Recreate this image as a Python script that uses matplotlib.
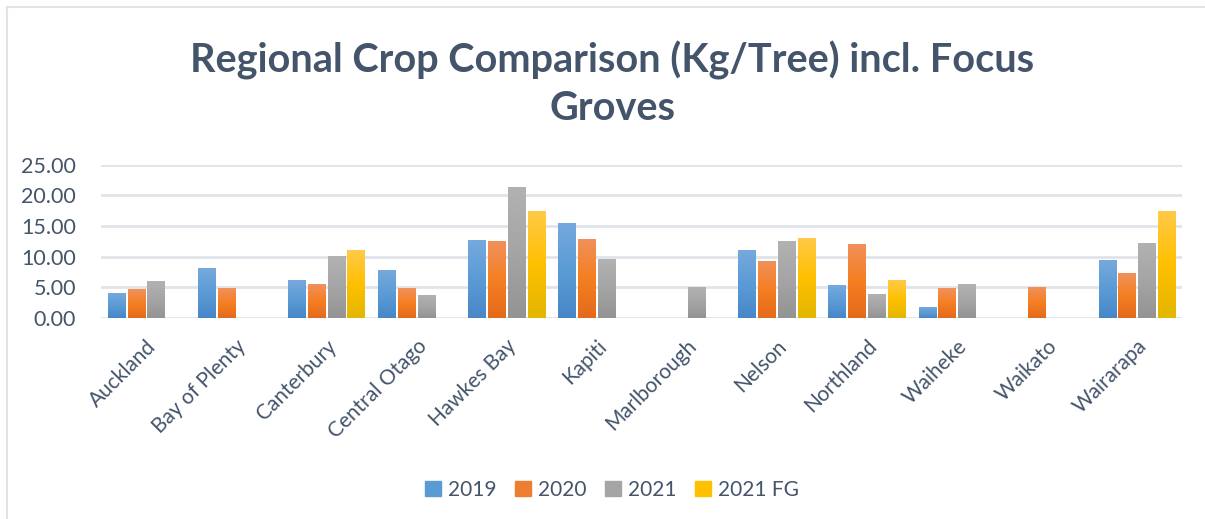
import numpy as np
import matplotlib
matplotlib.use("Agg")
import matplotlib.pyplot as plt
from matplotlib.colors import LinearSegmentedColormap
from matplotlib.lines import Line2D

categories = ["Auckland", "Bay of Plenty", "Canterbury", "Central Otago", "Hawkes Bay",
              "Kapiti", "Marlborough", "Nelson", "Northland", "Waiheke", "Waikato", "Wairarapa"]
series_names = ["2019", "2020", "2021", "2021 FG"]
v2019 = [4.05, 8.09, 6.18, 7.80, 12.70, 15.50, np.nan, 11.08, 5.37, 1.77, np.nan, 9.45]
v2020 = [4.70, 4.87, 5.53, 4.87, 12.55, 12.90, np.nan, 9.30, 12.07, 4.87, 5.04, 7.33]
v2021 = [6.00, np.nan, 10.10, 3.73, 21.40, 9.60, 5.04, 12.55, 3.90, 5.53, np.nan, 12.20]
v2021fg = [np.nan, np.nan, 11.08, np.nan, 17.45, np.nan, np.nan, 13.05, 6.18, np.nan, np.nan, 17.45]
yticks = [0, 5, 10, 15, 20, 25]
title = "Regional Crop Comparison (Kg/Tree) incl. Focus\nGroves"

series = [v2019, v2020, v2021, v2021fg]
base_colors = ["#5B9BD5", "#ED7D31", "#A5A5A5", "#FFC000"]
grads = [
    ["#4787C8", "#5B9BD5", "#76A9DE"],
    ["#E46A1B", "#F57F22", "#F0915C"],
    ["#939393", "#A5A5A5", "#B2B2B2"],
    ["#E3B600", "#FFC000", "#FFCA4A"],
]
text_color = "#44546A"
font = "Lato"

fig = plt.figure(figsize=(12.05, 5.19), dpi=100)
fig.patch.set_facecolor("white")
ax = fig.add_axes([101 / 1205, 201 / 519, 1081 / 1205, 153.3 / 519])

n = len(categories)
x = np.arange(n)
bw = 0.19
step = 0.22
offsets = (np.arange(4) - 1.5) * step

handles = []
for i, (vals, c, g) in enumerate(zip(series, base_colors, grads)):
    vals = np.array(vals, dtype=float)
    bars = ax.bar(x + offsets[i], np.nan_to_num(vals), width=bw, color=c, zorder=2)
    cmap = LinearSegmentedColormap.from_list(f"g{i}", g)
    grad = np.linspace(0, 1, 256).reshape(-1, 1)
    for b, v in zip(bars, vals):
        if np.isnan(v) or v <= 0:
            b.set_visible(False)
            continue
        bx, by = b.get_x(), b.get_y()
        w, h = b.get_width(), b.get_height()
        im = ax.imshow(grad, extent=[bx, bx + w, by, by + h], origin="lower",
                       aspect="auto", cmap=cmap, zorder=3, interpolation="bilinear")
        im.set_clip_path(b)
    handles.append(plt.Rectangle((0, 0), 1, 1, color=c))

ax.set_xlim(-0.5, n - 0.5)
ax.set_ylim(0, 25)
ax.set_yticks(yticks)
ax.set_yticklabels([f"{t:.2f}" for t in yticks], fontsize=15.5, color=text_color, family=font)
ax.set_xticks(x)
ax.set_xticklabels(categories, rotation=45, ha="right", rotation_mode="anchor",
                   fontsize=15, color=text_color, family=font)
ax.tick_params(axis="x", length=0, pad=13)
ax.tick_params(axis="y", length=0, pad=18)
for s in ax.spines.values():
    s.set_visible(False)
ax.grid(axis="y", color="#E0E3E8", linewidth=2, zorder=0)
ax.set_axisbelow(True)

fig.text(0.508, 1 - 84 / 519, title, ha="center", va="center", fontsize=28.5,
         fontweight="bold", color=text_color, family=font, linespacing=1.32)

fig.legend(handles, series_names, loc="center", bbox_to_anchor=(0.508, 1 - 490 / 519),
           ncol=4, frameon=False, handlelength=0.75, handleheight=0.75,
           columnspacing=0.9, handletextpad=0.35, labelcolor=text_color,
           prop={"family": font, "size": 15})

# partial chart frame (top and left)
fig.add_artist(Line2D([7 / 1205, 1], [1 - 7 / 519, 1 - 7 / 519], color="#E0E3E8", lw=1.5))
fig.add_artist(Line2D([7 / 1205, 7 / 1205], [0, 1 - 7 / 519], color="#E0E3E8", lw=1.5))

fig.savefig("out.png", dpi=100)
